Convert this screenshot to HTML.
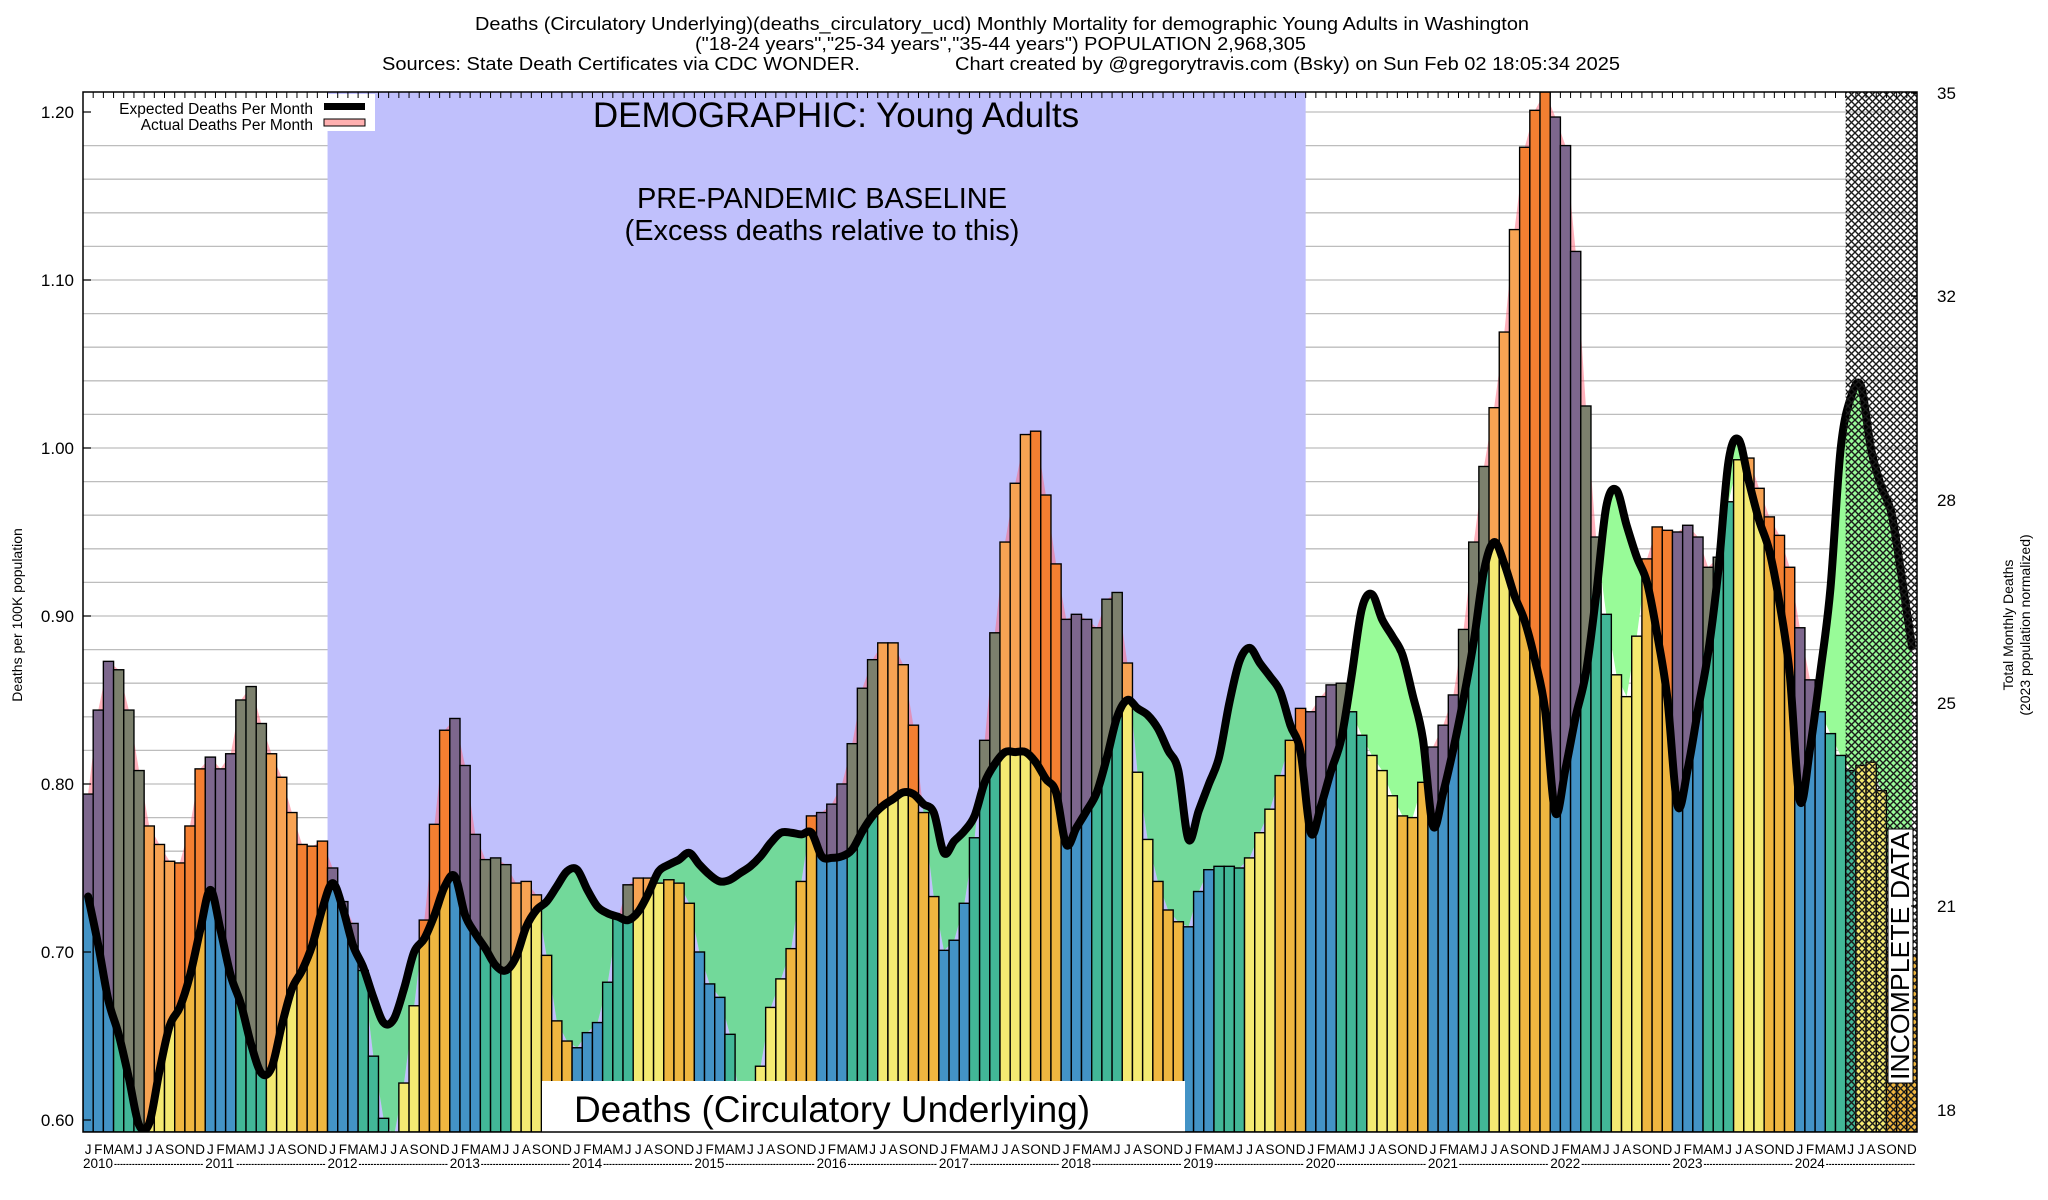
<!DOCTYPE html>
<html><head><meta charset="utf-8"><style>
html,body{margin:0;padding:0;background:#fff;}
svg{display:block;font-family:"Liberation Sans",Arial,sans-serif;}
</style></head><body>
<svg id="chart" width="2048" height="1200" viewBox="0 0 2048 1200" xmlns="http://www.w3.org/2000/svg">
<defs>
<pattern id="hatch" width="7" height="7" patternUnits="userSpaceOnUse"><path d="M0,0 L7,7 M7,0 L0,7" stroke="#1a1a1a" stroke-width="1.4"/></pattern>
<clipPath id="plotclip"><rect x="83" y="92" width="1834" height="1040"/></clipPath>
</defs>
<g font-size="18" fill="#000">
<text x="475" y="30" textLength="1054" lengthAdjust="spacingAndGlyphs">Deaths (Circulatory Underlying)(deaths_circulatory_ucd) Monthly Mortality for demographic Young Adults in Washington</text>
<text x="695" y="50" textLength="611" lengthAdjust="spacingAndGlyphs">("18-24 years","25-34 years","35-44 years") POPULATION 2,968,305</text>
<text x="382" y="70" textLength="478" lengthAdjust="spacingAndGlyphs">Sources: State Death Certificates via CDC WONDER.</text>
<text x="955" y="70" textLength="665" lengthAdjust="spacingAndGlyphs">Chart created by @gregorytravis.com (Bsky) on Sun Feb 02 18:05:34 2025</text>
</g>
<g id="plot" clip-path="url(#plotclip)"></g>
<g id="overlay"></g>
<rect x="83" y="92" width="1834" height="1040" fill="none" stroke="#000" stroke-width="1.5"/>
<g id="axes"></g>
</svg>
<script>
const years = [2010,2011,2012,2013,2014,2015,2016,2017,2018,2019,2020,2021,2022,2023,2024];
const monthLetters = ["J","F","M","A","M","J","J","A","S","O","N","D"];
const actual = [
.794,.844,.873,.868,.844,.808,.775,.764,.754,.753,.775,.809,
.816,.809,.818,.850,.858,.836,.818,.804,.783,.764,.763,.766,
.750,.730,.717,.689,.638,.601,.590,.622,.668,.719,.776,.832,
.839,.811,.770,.755,.756,.752,.741,.742,.734,.698,.659,.647,
.643,.652,.658,.682,.720,.740,.744,.744,.741,.743,.741,.729,
.700,.681,.673,.651,.610,.600,.632,.667,.684,.702,.742,.781,
.783,.788,.800,.824,.857,.874,.884,.884,.871,.835,.783,.733,
.701,.707,.729,.768,.826,.890,.944,.979,1.008,1.010,.972,.931,
.898,.901,.898,.893,.910,.914,.872,.807,.767,.742,.725,.718,
.715,.736,.749,.751,.751,.750,.756,.771,.785,.805,.826,.845,
.843,.852,.859,.860,.843,.829,.817,.808,.793,.781,.780,.801,
.822,.835,.853,.892,.944,.989,1.024,1.069,1.130,1.179,1.201,1.212,
1.197,1.180,1.117,1.025,.947,.901,.865,.852,.888,.934,.953,.951,
.950,.954,.947,.929,.935,.968,.993,.994,.976,.959,.948,.929,
.893,.862,.843,.830,.817,.808,.811,.813,.796,.700,.700,.698];
const expected = [
.733,.704,.671,.651,.625,.597,.598,.629,.656,.667,.686,.713,
.737,.713,.686,.669,.645,.628,.631,.656,.678,.689,.704,.726,
.741,.726,.704,.691,.673,.658,.660,.678,.700,.708,.722,.739,
.745,.722,.711,.702,.692,.689,.697,.715,.725,.730,.739,.748,
.749,.737,.727,.723,.721,.719,.724,.735,.748,.752,.755,.759,
.752,.746,.742,.743,.747,.751,.757,.765,.771,.771,.770,.771,
.757,.756,.757,.761,.772,.781,.787,.791,.795,.794,.788,.783,
.759,.766,.772,.781,.801,.812,.819,.819,.819,.813,.803,.795,
.764,.774,.784,.795,.816,.840,.850,.845,.841,.833,.820,.808,
.767,.784,.800,.816,.848,.873,.881,.872,.864,.855,.835,.819,
.771,.787,.808,.827,.864,.904,.913,.898,.888,.877,.853,.827,
.775,.795,.821,.851,.885,.927,.944,.931,.912,.897,.874,.844,
.783,.809,.840,.866,.912,.965,.975,.954,.935,.920,.889,.851,
.787,.809,.844,.878,.927,.992,1.005,.980,.957,.939,.908,.866,
.790,.821,.866,.916,.999,1.030,1.037,.999,.977,.961,.923,.882];
const leftTicks = ["0.60","0.70","0.80","0.90","1.00","1.10","1.20"];
const leftTickValues = [0.6,0.7,0.8,0.9,1.0,1.1,1.2];
const rightTicks = ["35","32","28","25","21","18"];
const rightTickValues = [1.2,1.079,0.958,0.837,0.716,0.595];
const baselineStart = 24, baselineEnd = 120, incompleteStart = 173;

const NS = "http://www.w3.org/2000/svg";
const X0 = 83, X1 = 1917, YB = 1132, YT = 92;
const N = actual.length;
const bw = (X1 - X0) / N;
function xL(i){ return X0 + i * bw; }
function xC(i){ return X0 + (i + 0.5) * bw; }
function yV(v){ return 1120 - (v - 0.6) * 1680; }
function mk(tag, attrs, parent){ const e = document.createElementNS(NS, tag); for (const k in attrs) e.setAttribute(k, attrs[k]); parent.appendChild(e); return e; }
const plot = document.getElementById('plot');
const overlay = document.getElementById('overlay');
const axes = document.getElementById('axes');
const defs = document.querySelector('defs');

function smooth(vals){
  const p = vals.map((v,i)=>[xC(i), yV(v)]);
  let d = "M" + p[0][0] + "," + p[0][1];
  for (let i=0;i<p.length-1;i++){
    const p0 = p[Math.max(0,i-1)], p1 = p[i], p2 = p[i+1], p3 = p[Math.min(p.length-1,i+2)];
    const c1 = [p1[0]+(p2[0]-p0[0])/6, p1[1]+(p2[1]-p0[1])/6];
    const c2 = [p2[0]-(p3[0]-p1[0])/6, p2[1]-(p3[1]-p1[1])/6];
    d += " C"+c1[0].toFixed(2)+","+c1[1].toFixed(2)+" "+c2[0].toFixed(2)+","+c2[1].toFixed(2)+" "+p2[0].toFixed(2)+","+p2[1].toFixed(2);
  }
  return d;
}
function linear(vals){ return vals.map((v,i)=>(i?"L":"M")+xC(i).toFixed(2)+","+yV(v).toFixed(2)).join(" "); }
const expPath = smooth(expected);
const actPath = linear(actual);
const xs = xC(0), xe = xC(N-1);

// gridlines
for (let k=0;k<=30;k++){
  const y = 1120 - k*33.6;
  const g = mk('line',{x1:X0,x2:X1,y1:y,y2:y,stroke:'#bdbdbd','stroke-width':1.3},plot);
  
  
}
// baseline region
const br = mk('rect',{x:xL(baselineStart),y:YT,width:xL(baselineEnd)-xL(baselineStart),height:YB-YT,fill:'#c0c0fc'},plot);



// clip paths
const cAboveExp = mk('clipPath',{id:'aboveExp'},defs);
mk('path',{d:expPath+" L"+(xe+6)+","+expPath.slice(-1)+" L"+(xe+6)+","+(YT-10)+" L"+(xs-6)+","+(YT-10)+" Z"},cAboveExp);
const cAboveAct = mk('clipPath',{id:'aboveAct'},defs);
mk('path',{d:actPath+" L"+(xe+6)+","+(YT-10)+" L"+(xs-6)+","+(YT-10)+" Z"},cAboveAct);
// simpler: rebuild clip paths properly
cAboveExp.innerHTML=""; cAboveAct.innerHTML="";
mk('path',{d:expPath+" L"+(X1+10)+","+yV(expected[N-1])+" L"+(X1+10)+","+(YT-10)+" L"+(X0-10)+","+(YT-10)+" L"+(X0-10)+","+yV(expected[0])+" Z"},cAboveExp);
mk('path',{d:actPath+" L"+(X1+10)+","+yV(actual[N-1])+" L"+(X1+10)+","+(YT-10)+" L"+(X0-10)+","+(YT-10)+" L"+(X0-10)+","+yV(actual[0])+" Z"},cAboveAct);

// pink actual area (excess)
const pinkG = mk('g',{'clip-path':'url(#aboveExp)'},plot);
const pk = mk('path',{d:actPath+" L"+xe+","+YB+" L"+xs+","+YB+" Z",fill:'rgba(255,100,120,0.5)'},pinkG);


// green deficit area
const cBase = mk('clipPath',{id:'baseclip'},defs);
mk('rect',{x:xL(baselineStart),y:YT,width:xL(baselineEnd)-xL(baselineStart),height:YB-YT},cBase);
const greenG = mk('g',{'clip-path':'url(#aboveAct)'},plot);
const gp = mk('path',{d:expPath+" L"+xe+","+YB+" L"+xs+","+YB+" Z",fill:'#98fb98'},greenG);


const greenG2 = mk('g',{'clip-path':'url(#baseclip)'},greenG);
const gp2 = mk('path',{d:expPath+" L"+xe+","+YB+" L"+xs+","+YB+" Z",fill:'#72d99a'},greenG2);



// bars
const seasonColors = ['#4393c6','#4393c6','#4393c6','#42b797','#42b797','#42b797','#f4ea72','#f4ea72','#f4ea72','#efb640','#efb640','#efb640'];
for (let i=0;i<N;i++){
  const top = Math.max(YT, Math.min(YB, yV(actual[i])));
  const r = mk('rect',{x:xL(i),y:top,width:bw,height:YB-top,fill:seasonColors[i%12],stroke:'#000','stroke-width':1.4},plot);
  
  
  const ey = yV(expected[i]);
  if (top < ey){
    const o = mk('rect',{x:xL(i)+0.7,y:top+0.7,width:bw-1.4,height:Math.min(YB,ey)-top-0.7,fill:'rgba(255,5,15,0.31)'},plot);
    
    
  }
}
// expected line
const ln = mk('path',{d:expPath,fill:'none',stroke:'#000','stroke-width':8,'stroke-linejoin':'round','stroke-linecap':'round'},plot);


// hatch incomplete
const hr = mk('rect',{x:xL(incompleteStart),y:YT,width:X1-xL(incompleteStart),height:YB-YT,fill:'url(#hatch)'},plot);



// annotations
function txt(s,attrs,parent,name){ const t = mk('text',attrs,parent); t.textContent = s;   return t; }
txt('DEMOGRAPHIC: Young Adults',{x:836,y:127,'font-size':35,'text-anchor':'middle'},overlay,'demographic-label');
txt('PRE-PANDEMIC BASELINE',{x:822,y:208,'font-size':29,'text-anchor':'middle'},overlay,'baseline-label');
txt('(Excess deaths relative to this)',{x:822,y:240,'font-size':29,'text-anchor':'middle'},overlay,'baseline-sublabel');
const lb = mk('rect',{x:542,y:1081,width:643,height:51,fill:'#fff'},overlay);


txt('Deaths (Circulatory Underlying)',{x:832,y:1122,'font-size':37,'text-anchor':'middle'},overlay,'metric-label');
const ib = mk('rect',{x:1888,y:829,width:25,height:254,fill:'#fff',stroke:'#000','stroke-width':1},overlay);


txt('INCOMPLETE DATA',{x:0,y:0,'font-size':26,'text-anchor':'middle',transform:'translate(1909,956) rotate(-90)',textLength:248,lengthAdjust:'spacingAndGlyphs'},overlay,'incomplete-data-label');

// legend
const lg = mk('g',{},overlay);


mk('rect',{x:84,y:94,width:291,height:37,fill:'#fff'},lg);
txt('Expected Deaths Per Month',{x:313,y:114,'font-size':15.5,'text-anchor':'end'},lg,'legend-expected-label');
txt('Actual Deaths Per Month',{x:313,y:130,'font-size':15.5,'text-anchor':'end'},lg,'legend-actual-label');
const s1 = mk('rect',{x:324,y:103,width:41,height:7,fill:'#000'},lg);


const s2 = mk('rect',{x:324,y:119,width:41,height:7,fill:'#ffb0b0',stroke:'#000','stroke-width':1},lg);



// axes
for (let i=0;i<leftTicks.length;i++){
  const y = yV(leftTickValues[i]);
  txt(leftTicks[i],{x:74,y:y+6,'font-size':17,'text-anchor':'end'},axes,'y-tick-label');
  const t = mk('line',{x1:X0,x2:X0+8,y1:y,y2:y,stroke:'#000','stroke-width':1.2},axes);
  
  
}
for (let i=0;i<rightTicks.length;i++){
  const y = 1120 - (rightTickValues[i]-0.595)*1680*(1017/1017);
}
const rightY = [93,296,500,703,906,1110];
for (let i=0;i<rightTicks.length;i++){
  txt(rightTicks[i],{x:1937,y:rightY[i]+6,'font-size':17},axes,'right-tick-label');
  const t = mk('line',{x1:X1-6,x2:X1,y1:rightY[i],y2:rightY[i],stroke:'#000','stroke-width':1.2},axes);
  
  
}
txt('Deaths per 100K population',{x:0,y:0,'font-size':14,'text-anchor':'middle',transform:'translate(22,615) rotate(-90)'},axes,'y-axis-title');
txt('Total Monthly Deaths',{x:0,y:0,'font-size':14,'text-anchor':'middle',transform:'translate(2013,625) rotate(-90)'},axes,'right-axis-title');
txt('(2023 population normalized)',{x:0,y:0,'font-size':14,'text-anchor':'middle',transform:'translate(2030,625) rotate(-90)'},axes,'right-axis-subtitle');
for (let i=0;i<N;i++){
  const t = mk('line',{x1:xL(i),x2:xL(i),y1:YT,y2:YT+6,stroke:'#000','stroke-width':1},axes);
  
  
  txt(monthLetters[i%12],{x:xL(i)+bw/2,y:1154,'font-size':13.5,'text-anchor':'middle'},axes,'x-month-label');
}
for (let k=0;k<years.length;k++){
  const x = xL(k*12);
  txt(String(years[k]),{x:x,y:1168,'font-size':13.5},axes,'x-year-label');
  const t = txt('------------------------------',{x:x+31,y:1168,'font-size':13.5,textLength:12*bw-33,lengthAdjust:'spacingAndGlyphs'},axes,'x-year-dashes');
}
</script>
</body></html>
